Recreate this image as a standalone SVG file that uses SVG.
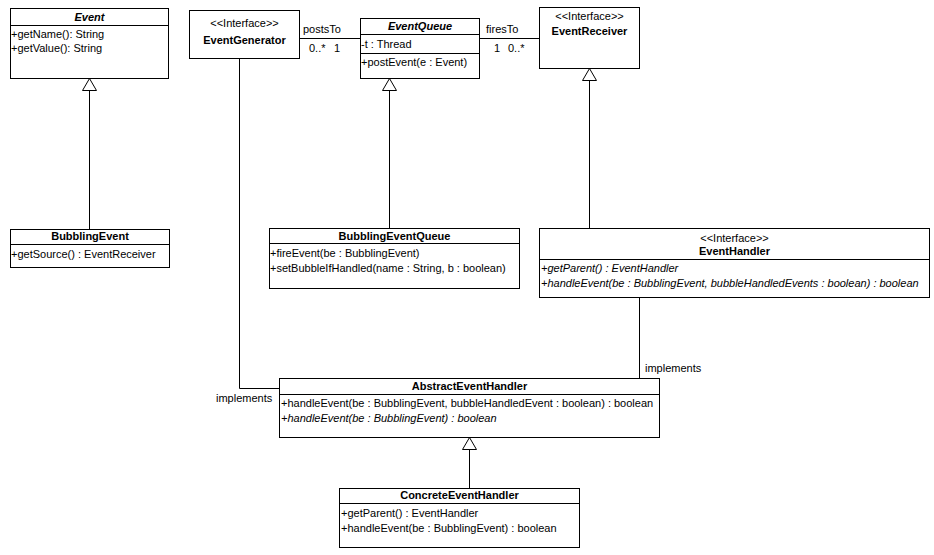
<svg xmlns="http://www.w3.org/2000/svg" width="934" height="555" viewBox="0 0 934 555">
<style>
text{font-family:"Liberation Sans",Arial,sans-serif;font-size:11px;fill:#000}
.b{font-weight:bold}
.i{font-style:italic}
.c{text-anchor:middle}
rect{fill:#fff;stroke:#000;stroke-width:1}
line,polyline{stroke:#000;stroke-width:1;fill:none}
.tri{fill:#fff;stroke:#000;stroke-width:1}
</style>
<rect x="0" y="0" width="934" height="555" style="stroke:none"/>
<g id="connectors">
<line x1="89.5" y1="229" x2="89.5" y2="90"/>
<polygon class="tri" points="89.5,78.5 82.5,90.5 96.5,90.5"/>
<line x1="389.5" y1="228" x2="389.5" y2="90"/>
<polygon class="tri" points="389.5,78.5 382.5,90.5 396.5,90.5"/>
<line x1="589.5" y1="228" x2="589.5" y2="80"/>
<polygon class="tri" points="589.5,68.5 582.5,80.5 596.5,80.5"/>
<line x1="469.5" y1="488" x2="469.5" y2="449"/>
<polygon class="tri" points="469.5,437.5 462.5,449.5 476.5,449.5"/>
<line x1="299" y1="38.5" x2="360" y2="38.5"/>
<text x="303" y="33">postsTo</text>
<text x="309" y="52">0..*</text>
<text x="334" y="52">1</text>
<line x1="479" y1="38.5" x2="539" y2="38.5"/>
<text x="486" y="33">firesTo</text>
<text x="494" y="52">1</text>
<text x="508" y="52">0..*</text>
<polyline points="239.5,58 239.5,388.5 279,388.5"/>
<text x="216" y="402">implements</text>
<line x1="639.5" y1="297" x2="639.5" y2="378"/>
<text x="645" y="372">implements</text>
</g>
<g id="Event">
<rect x="10.5" y="8.5" width="158" height="70"/>
<line x1="10.5" y1="25.5" x2="168.5" y2="25.5"/>
<text x="89.5" y="21" class="b i c">Event</text>
<text x="11" y="38">+getName(): String</text>
<text x="11" y="52">+getValue(): String</text>
</g>
<g id="BubblingEvent">
<rect x="10.5" y="229.5" width="159" height="38"/>
<line x1="10.5" y1="244.5" x2="169.5" y2="244.5"/>
<text x="90" y="240" class="b c">BubblingEvent</text>
<text x="11" y="258">+getSource() : EventReceiver</text>
</g>
<g id="EventGenerator">
<rect x="189.5" y="10.5" width="110" height="48"/>
<text x="244.5" y="27" class="c">&lt;&lt;Interface&gt;&gt;</text>
<text x="244.5" y="44" class="b c">EventGenerator</text>
</g>
<g id="EventQueue">
<rect x="360.5" y="18.5" width="119" height="60"/>
<line x1="360.5" y1="34.5" x2="479.5" y2="34.5"/>
<line x1="360.5" y1="53.5" x2="479.5" y2="53.5"/>
<text x="420" y="30" class="b i c">EventQueue</text>
<text x="361" y="48">-t : Thread</text>
<text x="361" y="66">+postEvent(e : Event)</text>
</g>
<g id="EventReceiver">
<rect x="539.5" y="7.5" width="100" height="61"/>
<text x="589.5" y="20" class="c">&lt;&lt;Interface&gt;&gt;</text>
<text x="589.5" y="35" class="b c">EventReceiver</text>
</g>
<g id="BubblingEventQueue">
<rect x="269.5" y="228.5" width="250" height="60"/>
<line x1="269.5" y1="243.5" x2="519.5" y2="243.5"/>
<text x="394.5" y="240" class="b c">BubblingEventQueue</text>
<text x="270" y="257">+fireEvent(be : BubblingEvent)</text>
<text x="270" y="272">+setBubbleIfHandled(name : String, b : boolean)</text>
</g>
<g id="EventHandler">
<rect x="539.5" y="228.5" width="390" height="69"/>
<line x1="539.5" y1="259.5" x2="929.5" y2="259.5"/>
<text x="734.5" y="242" class="c">&lt;&lt;Interface&gt;&gt;</text>
<text x="734.5" y="255" class="b c">EventHandler</text>
<text x="541" y="272" class="i">+getParent() : EventHandler</text>
<text x="541" y="287" class="i">+handleEvent(be : BubblingEvent, bubbleHandledEvents : boolean) : boolean</text>
</g>
<g id="AbstractEventHandler">
<rect x="279.5" y="378.5" width="380" height="59"/>
<line x1="279.5" y1="394.5" x2="659.5" y2="394.5"/>
<text x="469.5" y="390" class="b c">AbstractEventHandler</text>
<text x="281" y="407">+handleEvent(be : BubblingEvent, bubbleHandledEvent : boolean) : boolean</text>
<text x="281" y="422" class="i">+handleEvent(be : BubblingEvent) : boolean</text>
</g>
<g id="ConcreteEventHandler">
<rect x="339.5" y="488.5" width="240" height="59"/>
<line x1="339.5" y1="503.5" x2="579.5" y2="503.5"/>
<text x="459.5" y="499" class="b c">ConcreteEventHandler</text>
<text x="341" y="517">+getParent() : EventHandler</text>
<text x="341" y="532">+handleEvent(be : BubblingEvent) : boolean</text>
</g>
</svg>
